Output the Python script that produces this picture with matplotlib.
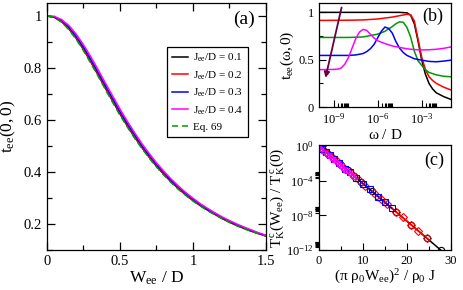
import numpy as np
import matplotlib
matplotlib.use("Agg")
from matplotlib import pyplot as plt
from matplotlib.ticker import FixedLocator, FixedFormatter

plt.rcParams["font.family"] = ["Liberation Serif", "DejaVu Serif"]
plt.rcParams["mathtext.fontset"] = "custom"
plt.rcParams["mathtext.rm"] = "Liberation Serif"
plt.rcParams["mathtext.it"] = "Liberation Serif"
plt.rcParams["mathtext.bf"] = "Liberation Serif:bold"

## panel (a): t_ee(0,0) vs W_ee/D
w_ee = [0.0, 0.05, 0.1, 0.15, 0.2, 0.25, 0.3, 0.35, 0.4, 0.45, 0.5, 0.55, 0.6, 0.65, 0.7,
        0.75, 0.8, 0.85, 0.9, 0.95, 1.0, 1.05, 1.1, 1.15, 1.2, 1.25, 1.3, 1.35, 1.4, 1.45, 1.5]
t_eq69 = [1.000, 0.994, 0.976, 0.947, 0.910, 0.866, 0.818, 0.768, 0.717, 0.667, 0.618, 0.573,
          0.530, 0.490, 0.453, 0.419, 0.388, 0.359, 0.333, 0.310, 0.288, 0.269, 0.251, 0.235,
          0.220, 0.206, 0.193, 0.182, 0.171, 0.162, 0.153]
t_j01 = [1.000, 0.995, 0.978, 0.950, 0.914, 0.871, 0.823, 0.773, 0.722, 0.672, 0.623, 0.577,
         0.534, 0.494, 0.457, 0.422, 0.391, 0.362, 0.336, 0.312, 0.290, 0.271, 0.253, 0.237,
         0.221, 0.207, 0.194, 0.183, 0.172, 0.163, 0.154]
t_j02 = [1.000, 0.995, 0.979, 0.952, 0.916, 0.873, 0.826, 0.776, 0.725, 0.675, 0.625, 0.580,
         0.536, 0.496, 0.458, 0.424, 0.393, 0.363, 0.337, 0.313, 0.291, 0.272, 0.254, 0.237,
         0.222, 0.208, 0.195, 0.184, 0.173, 0.163, 0.154]
t_j03 = [1.000, 0.996, 0.982, 0.957, 0.922, 0.880, 0.833, 0.783, 0.732, 0.682, 0.632, 0.586,
         0.543, 0.501, 0.464, 0.429, 0.397, 0.367, 0.341, 0.317, 0.295, 0.274, 0.256, 0.240,
         0.224, 0.210, 0.197, 0.186, 0.175, 0.164, 0.155]
t_j04 = [1.000, 0.998, 0.986, 0.963, 0.930, 0.889, 0.843, 0.793, 0.742, 0.692, 0.642, 0.595,
         0.551, 0.509, 0.471, 0.435, 0.403, 0.373, 0.346, 0.321, 0.299, 0.278, 0.260, 0.243,
         0.227, 0.213, 0.200, 0.188, 0.177, 0.166, 0.157]

## panel (b): t_ee(omega,0), log10(omega/D) and values
lw_black = [-10, -8, -6, -5, -4.5, -4, -3.75, -3.5, -3.25, -3.0, -2.75, -2.5, -2.25, -2.0, -1.5, -1.0]
tb_black = [1.0, 1.0, 1.0, 1.0, 1.0, 0.995, 0.97, 0.88, 0.70, 0.50, 0.35, 0.25, 0.19, 0.15, 0.11, 0.08]
lw_red = [-10, -8, -7, -6, -5, -4.5, -4, -3.75, -3.5, -3.25, -3.0, -2.75, -2.5, -2.25, -2.0, -1.5, -1.0]
tb_red = [0.915, 0.917, 0.92, 0.93, 0.95, 0.965, 0.98, 0.975, 0.91, 0.72, 0.53, 0.40, 0.32, 0.28, 0.25, 0.21, 0.18]
lw_green = [-10, -8, -7, -6.5, -6, -5.5, -5, -4.75, -4.5, -4.25, -4, -3.75, -3.5, -3.25, -3.0,
            -2.75, -2.5, -2.0, -1.5, -1.0]
tb_green = [0.735, 0.735, 0.74, 0.755, 0.77, 0.80, 0.85, 0.88, 0.90, 0.895, 0.84, 0.74, 0.59,
            0.49, 0.44, 0.395, 0.365, 0.34, 0.325, 0.32]
lw_blue = [-10, -8, -7.5, -7, -6.75, -6.5, -6.25, -6, -5.75, -5.5, -5.25, -5, -4.75, -4.5,
           -4.25, -4, -3.5, -3.0, -2.5, -2.0, -1.5, -1.0]
tb_blue = [0.545, 0.545, 0.55, 0.565, 0.585, 0.615, 0.66, 0.73, 0.80, 0.845, 0.83, 0.78, 0.69,
           0.62, 0.575, 0.545, 0.51, 0.495, 0.482, 0.478, 0.485, 0.495]
lw_mag = [-10, -9, -8.75, -8.5, -8.25, -8, -7.75, -7.5, -7.25, -7, -6.75, -6.5, -6.25, -6,
          -5.5, -5, -4.5, -4, -3.5, -3.0, -2.5, -2.0, -1.5, -1.0]
tb_mag = [0.395, 0.397, 0.40, 0.41, 0.45, 0.52, 0.62, 0.72, 0.79, 0.82, 0.81, 0.77, 0.73, 0.70,
          0.67, 0.645, 0.63, 0.615, 0.607, 0.603, 0.605, 0.61, 0.62, 0.635]

## panel (c): T_K^c(W_ee)/T_K^c(0), x = (pi rho0 Wee)^2 / rho0 J, log10 of ratio
xc_black = [0, 0.5, 1, 2, 3.5, 5, 6.5, 8, 9.5, 12, 13.5, 17.5, 21, 24.5, 27.8]
lc_black = [0, -0.22, -0.43, -0.87, -1.52, -2.17, -2.82, -3.47, -4.12, -5.21, -5.86, -7.6, -9.12, -10.6, -12.0]
xc_red = [0, 1, 2, 3, 4, 5, 6, 7.5, 9, 10.5, 12.5, 14, 15.5, 17.5, 19, 21, 22.5, 24.5]
lc_red = [0, -0.43, -0.87, -1.3, -1.74, -2.17, -2.6, -3.26, -3.9, -4.56, -5.43, -6.08, -6.73,
          -7.6, -8.25, -9.12, -9.77, -10.64]
xc_blue = [0, 0.7, 1.5, 2.5, 3.5, 4.5, 6, 7, 8.5, 10, 11.5, 13.5, 15, 16.5]
lc_blue = [0, -0.3, -0.65, -1.09, -1.52, -1.95, -2.6, -3.04, -3.69, -4.34, -5.0, -5.86, -6.51, -7.16]
xc_mag = [0, 0.5, 1, 1.5, 2, 2.5, 3, 3.5, 4, 4.5, 5, 5.5, 6, 6.5, 7, 7.5, 8]
lc_mag = [0, -0.22, -0.43, -0.65, -0.87, -1.09, -1.3, -1.52, -1.74, -1.95, -2.17, -2.39, -2.6,
          -2.82, -3.04, -3.26, -3.47]
# fitted lines (end points)
xl_black, ll_black = [0, 28], [0, -12.15]
xl_red, ll_red = [0, 25], [0, -10.85]
xl_blue, ll_blue = [0, 16.5], [0, -7.16]
xl_mag, ll_mag = [0, 8], [0, -3.47]

fig = plt.figure(figsize=(4.63, 2.90), dpi=100)
ax_a = fig.add_axes([0.1015, 0.138, 0.473, 0.852])
ax_b = fig.add_axes([0.689, 0.631, 0.285, 0.359])
ax_c = fig.add_axes([0.689, 0.138, 0.285, 0.362])

for ax in (ax_a, ax_b, ax_c):
    for s in ax.spines.values():
        s.set_linewidth(0.9)

## (a)
lw = 1.1
ax_a.plot(w_ee, t_j01, color="black", lw=lw, label=r"J$_{ee}$/D = 0.1")
ax_a.plot(w_ee, t_j02, color="red", lw=lw, label=r"J$_{ee}$/D = 0.2")
ax_a.plot(w_ee, t_j03, color="blue", lw=lw, label=r"J$_{ee}$/D = 0.3")
ax_a.plot(w_ee, t_j04, color="magenta", lw=lw, label=r"J$_{ee}$/D = 0.4")
ax_a.plot(w_ee, t_eq69, color="#009900", lw=lw, ls=(0, (4, 2.5)), label="Eq. 69")
ax_a.set_xlim(0, 1.5)
ax_a.set_ylim(0.1, 1.05)
ax_a.set_xticks([0, 0.5, 1, 1.5])
ax_a.set_xticklabels(["0", "0.5", "1", "1.5"])
ax_a.set_xticks([0.25, 0.75, 1.25], minor=True)
ax_a.set_yticks([0.2, 0.4, 0.6, 0.8, 1.0])
ax_a.set_yticklabels(["0.2", "0.4", "0.6", "0.8", "1"])
ax_a.set_yticks([0.1, 0.3, 0.5, 0.7, 0.9], minor=True)
ax_a.tick_params(which="both", direction="in", top=True, right=True, labelsize=10.5, width=0.9)
ax_a.tick_params(which="major", length=6)
ax_a.tick_params(which="minor", length=3.5)
ax_a.set_xlabel(r"$W_{ee}\ /\ D$", fontsize=12.5, labelpad=1)
ax_a.set_ylabel(r"$t_{ee}(0,0)$", fontsize=12.5, labelpad=4)
ax_a.text(0.85, 0.935, "(a)", transform=ax_a.transAxes, fontsize=14, va="center")
leg = ax_a.legend(loc="upper left", bbox_to_anchor=(0.548, 0.822), fontsize=8,
                  frameon=True, fancybox=False, edgecolor="black", framealpha=1,
                  handlelength=1.4, handletextpad=0.45, labelspacing=0.45, borderpad=0.45,
                  borderaxespad=0)
leg.get_frame().set_linewidth(0.9)

## (b)
lwb = 1.1
ax_b.plot(10.0 ** np.array(lw_black), tb_black, color="black", lw=lwb)
ax_b.plot(10.0 ** np.array(lw_red), tb_red, color="red", lw=lwb)
ax_b.plot(10.0 ** np.array(lw_green), tb_green, color="#009900", lw=lwb)
ax_b.plot(10.0 ** np.array(lw_blue), tb_blue, color="blue", lw=lwb)
ax_b.plot(10.0 ** np.array(lw_mag), tb_mag, color="magenta", lw=lwb)
ax_b.set_xscale("log")
ax_b.set_xlim(1e-10, 1e-1)
ax_b.set_ylim(0, 1.1)
ax_b.xaxis.set_major_locator(FixedLocator([1e-9, 1e-6, 1e-3]))
ax_b.xaxis.set_major_formatter(FixedFormatter([r"$10^{-9}$", r"$10^{-6}$", r"$10^{-3}$"]))
ax_b.xaxis.set_minor_locator(FixedLocator([k * 10.0 ** e for e in (-9, -6, -3) for k in range(2, 10)]))
ax_b.set_yticks([0, 0.5, 1])
ax_b.set_yticklabels(["0", "0.5", "1"])
ax_b.set_yticks([0.25, 0.75], minor=True)
ax_b.tick_params(which="both", direction="in", labelsize=9, width=0.8)
ax_b.tick_params(which="major", length=5)
ax_b.tick_params(which="minor", length=3)
ax_b.set_xlabel(r"$\omega\ /\ D$", fontsize=11, labelpad=1)
ax_b.set_ylabel(r"$t_{ee}(\omega,0)$", fontsize=11, labelpad=2)
ax_b.text(0.78, 0.875, "(b)", transform=ax_b.transAxes, fontsize=13, va="center")
ax_b.annotate("", xy=(10 ** -9.6, 0.28), xytext=(10 ** -8.42, 1.08),
              arrowprops=dict(arrowstyle="-|>", color="#660044", lw=1.3, mutation_scale=8))

## (c)
ax_c.set_yscale("log")
ax_c.plot(xl_black, 10.0 ** np.array(ll_black), color="black", lw=1.1)
ax_c.plot(xl_red, 10.0 ** np.array(ll_red), color="red", lw=1.1)
ax_c.plot(xl_blue, 10.0 ** np.array(ll_blue), color="blue", lw=1.1)
ax_c.plot(xl_mag, 10.0 ** np.array(ll_mag), color="magenta", lw=1.1)
ax_c.plot(xc_black, 10.0 ** np.array(lc_black), ls="none", marker="o", ms=4.5, mfc="none",
          mec="black", mew=0.8)
ax_c.plot(xc_red, 10.0 ** np.array(lc_red), ls="none", marker="D", ms=3.6, mfc="none",
          mec="red", mew=0.8)
ax_c.plot(xc_blue, 10.0 ** np.array(lc_blue), ls="none", marker="s", ms=4, mfc="none",
          mec="blue", mew=0.8)
ax_c.plot(xc_mag, 10.0 ** np.array(lc_mag), ls="none", marker="^", ms=3.6, mfc="none",
          mec="magenta", mew=0.8)
ax_c.set_xlim(0, 30)
ax_c.set_ylim(1e-12, 1.3)
ax_c.set_xticks([0, 10, 20, 30])
ax_c.set_xticks([5, 15, 25], minor=True)
ax_c.yaxis.set_major_locator(FixedLocator([1e-12, 1e-8, 1e-4, 1e0]))
ax_c.yaxis.set_major_formatter(FixedFormatter([r"$10^{-12}$", r"$10^{-8}$", r"$10^{-4}$", r"$10^{0}$"]))
ax_c.yaxis.set_minor_locator(FixedLocator([k * 10.0 ** e for e in (-12, -8, -4) for k in range(2, 10)]))
ax_c.tick_params(which="both", direction="in", labelsize=9, width=0.8)
ax_c.tick_params(axis="x", which="major", length=5)
ax_c.tick_params(axis="x", which="minor", length=3)
ax_c.tick_params(axis="y", which="major", length=5)
ax_c.tick_params(axis="y", which="minor", direction="out", length=3)
ax_c.set_xlabel(r"$(\pi\ \rho_0 W_{ee})^2\ /\ \rho_0\ J$", fontsize=11, labelpad=1)
ax_c.set_ylabel(r"$T_K^c(W_{ee})\ /\ T_K^c(0)$", fontsize=11, labelpad=0)
ax_c.text(0.80, 0.857, "(c)", transform=ax_c.transAxes, fontsize=13, va="center")

fig.savefig("out.png", dpi=100)
